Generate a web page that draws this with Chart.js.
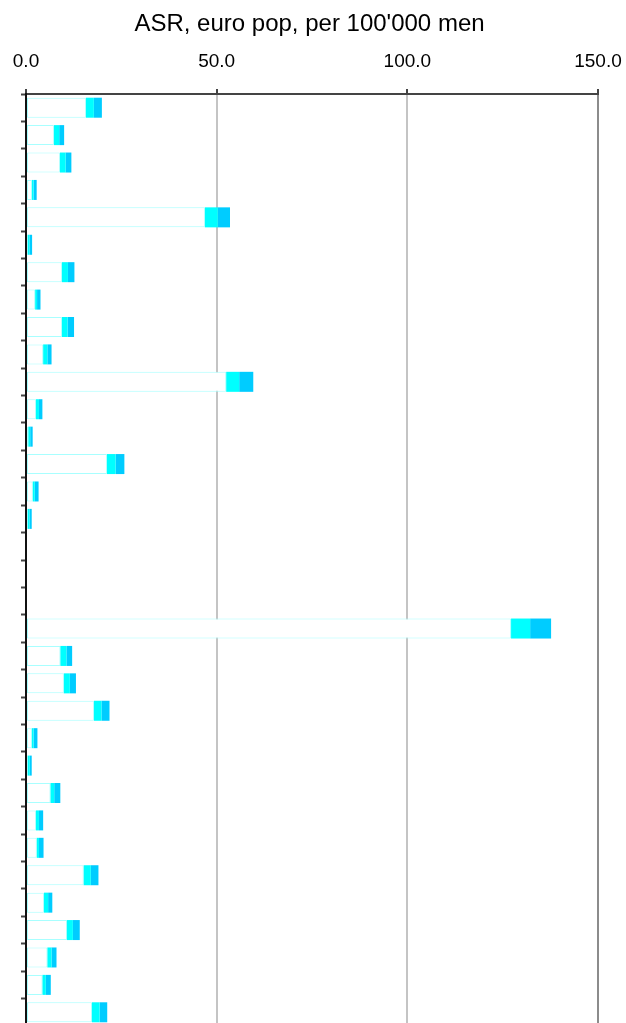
<!DOCTYPE html>
<html>
<head>
<meta charset="utf-8">
<script src="https://cdn.jsdelivr.net/npm/chart.js@4/dist/chart.umd.min.js"></script>
<style>
  html, body { margin: 0; padding: 0; background: #fff; overflow: hidden; }
  #wrap { position: absolute; left: 0; top: 0; width: 626px; height: 1030px; }
</style>
</head>
<body>
<div id="wrap"><canvas id="asrChart" width="626" height="1030"></canvas></div>
<script>
// rows (no labels shown in the picture)
var categories = ['1','2','3','4','5','6','7','8','9','10','11','12','13','14','15','16','17',
                  '18','19','20','21','22','23','24','25','26','27','28','29','30','31','32','33','34'];

// lower bound, estimate, upper bound
var lower    = [15.7, 7.3, 8.9, 1.5, 46.9, 0.4, 9.4, 2.4, 9.4, 4.5, 52.5, 2.6, 0.6, 21.2, 1.75, 0.4, 0,
                0, 0, 127.2, 9.0, 9.9, 17.8, 1.5, 0.4, 6.4, 2.6, 2.8, 15.1, 4.7, 10.75, 5.6, 4.3, 17.3];
var estimate = [17.8, 8.7, 10.4, 2.0, 50.3, 0.9, 11.0, 2.9, 10.9, 5.6, 55.9, 3.4, 1.1, 23.5, 2.3, 0.9, 0,
                0, 0, 132.2, 10.6, 11.5, 19.8, 2.0, 1.0, 7.4, 3.4, 3.4, 17.0, 5.8, 12.3, 6.7, 5.2, 19.3];
var upper    = [19.9, 10.0, 11.9, 2.8, 53.5, 1.6, 12.7, 3.8, 12.6, 6.7, 59.6, 4.3, 1.75, 25.8, 3.3, 1.5, 0,
                0, 0, 137.7, 12.1, 13.1, 21.9, 3.0, 1.5, 9.0, 4.5, 4.6, 19.0, 6.9, 14.1, 8.0, 6.5, 21.3];

var xTicks = [0, 50, 100, 150];

function diff(a, b){
  var out = [];
  for (var i = 0; i < a.length; i++) {
    out.push(Math.round((a[i] - b[i]) * 100) / 100);
  }
  return out;
}

function drawChart(){
  var ctx = document.getElementById('asrChart').getContext('2d');
  new Chart(ctx, {
    type: 'bar',
    data: {
      labels: categories,
      datasets: [{
        data: lower,
        backgroundColor: '#ffffff',
        borderColor: '#a8ffff',
        borderWidth: 1,
        borderSkipped: false
      }, {
        data: diff(estimate, lower),
        backgroundColor: '#00ffff',
        borderWidth: 0
      }, {
        data: diff(upper, estimate),
        backgroundColor: '#00ccff',
        borderWidth: 0
      }]
    },
    options: {
      indexAxis: 'y',
      responsive: false,
      animation: false,
      events: [],
      datasets: {
        bar: { barPercentage: 0.73, categoryPercentage: 1 }
      },
      layout: { padding: { left: 21, right: 28, top: 0, bottom: 4 } },
      plugins: {
        legend: { display: false },
        tooltip: { enabled: false },
        title: {
          display: true,
          text: "ASR, euro pop, per 100'000 men",
          color: '#000',
          font: { family: 'Liberation Sans, Arial, sans-serif', size: 24, weight: 'normal', lineHeight: 1.2 },
          padding: { top: 10, bottom: -3.8 }
        }
      },
      scales: {
        x: {
          position: 'top',
          stacked: true,
          min: 0,
          max: 150,
          afterBuildTicks: function(axis){
            axis.ticks = xTicks.map(function(v){ return { value: v }; });
          },
          ticks: {
            color: '#000',
            padding: 0,
            maxRotation: 0,
            // tall line box lifts the labels well above the axis line
            font: { family: 'Liberation Sans, Arial, sans-serif', size: 19, lineHeight: 54 / 19 },
            callback: function(v){ return Number(v).toFixed(1); }
          },
          grid: {
            color: function(c){
              if (c.index === 0) return 'rgba(0,0,0,0)';
              return c.index === 3 ? '#8c8c8c' : '#c4c4c4';
            },
            lineWidth: 2,
            tickLength: 5,
            tickColor: '#444',
            tickWidth: 2
          },
          border: { display: true, color: '#444', width: 2 }
        },
        y: {
          stacked: true,
          offset: true,
          ticks: { display: false },
          grid: {
            offset: true,
            drawOnChartArea: false,
            tickLength: 5,
            tickColor: '#444',
            tickWidth: 2
          },
          border: { display: true, color: '#111', width: 2 }
        }
      }
    }
  });
}

drawChart();
</script>
</body>
</html>
